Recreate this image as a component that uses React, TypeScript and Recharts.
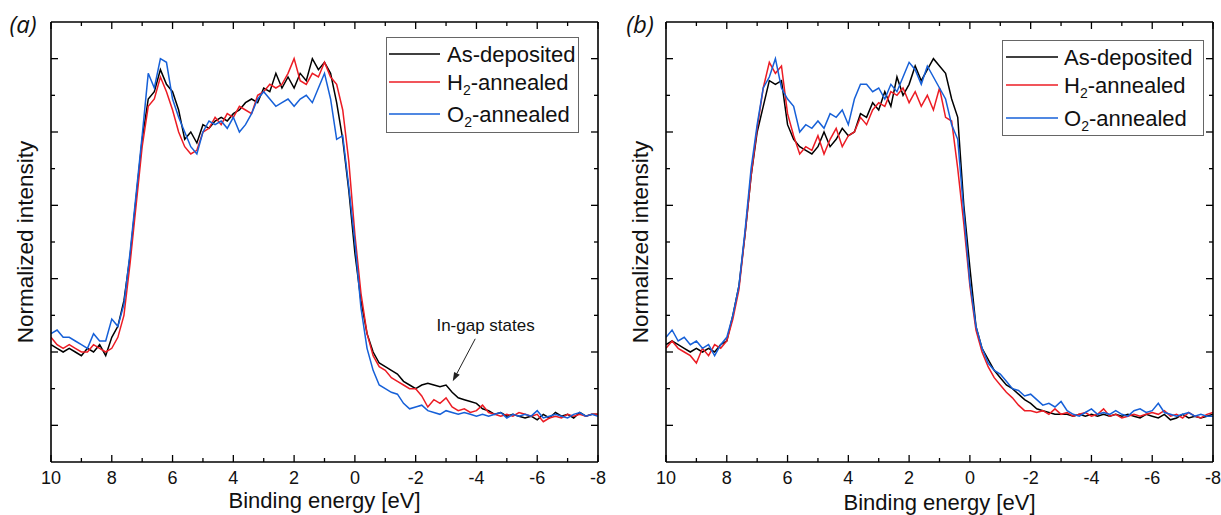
import React from 'react';
import { LineChart, Line, XAxis, YAxis, Legend, ReferenceLine, ReferenceDot } from 'recharts';

const FONT = '"Liberation Sans", Arial, sans-serif';

const energies = [
  10, 9.8, 9.6, 9.4, 9.2, 9, 8.8, 8.6, 8.4, 8.2,
  8, 7.8, 7.6, 7.4, 7.2, 7, 6.8, 6.6, 6.4, 6.2,
  6, 5.8, 5.6, 5.4, 5.2, 5, 4.8, 4.6, 4.4, 4.2,
  4, 3.8, 3.6, 3.4, 3.2, 3, 2.8, 2.6, 2.4, 2.2,
  2, 1.8, 1.6, 1.4, 1.2, 1, 0.8, 0.6, 0.4, 0.2,
  0, -0.2, -0.4, -0.6, -0.8, -1, -1.2, -1.4, -1.6, -1.8,
  -2, -2.2, -2.4, -2.6, -2.8, -3, -3.2, -3.4, -3.6, -3.8,
  -4, -4.2, -4.4, -4.6, -4.8, -5, -5.2, -5.4, -5.6, -5.8,
  -6, -6.2, -6.4, -6.6, -6.8, -7, -7.2, -7.4, -7.6, -7.8,
  -8,
];

// Panel (a)
const aAsDeposited = [
  0.22, 0.21, 0.20, 0.21, 0.20, 0.19, 0.21, 0.20, 0.22, 0.19,
  0.24, 0.27, 0.34, 0.46, 0.62, 0.78, 0.89, 0.91, 0.97, 0.93,
  0.91, 0.86, 0.78, 0.80, 0.77, 0.82, 0.81, 0.83, 0.84, 0.83,
  0.85, 0.86, 0.88, 0.89, 0.88, 0.92, 0.91, 0.96, 0.92, 0.95,
  0.92, 0.96, 0.94, 1.00, 0.97, 0.99, 0.96, 0.88, 0.78, 0.64,
  0.47, 0.34, 0.25, 0.20, 0.17, 0.16, 0.15, 0.14, 0.12, 0.11,
  0.10, 0.11, 0.115, 0.11, 0.105, 0.11, 0.09, 0.075, 0.07, 0.065,
  0.06, 0.045, 0.04, 0.03, 0.035, 0.025, 0.03, 0.025, 0.02, 0.025,
  0.015, 0.03, 0.02, 0.035, 0.025, 0.03, 0.02, 0.035, 0.025, 0.03,
  0.03,
];
const aH2 = [
  0.24, 0.22, 0.21, 0.22, 0.21, 0.20, 0.20, 0.22, 0.21, 0.20,
  0.21, 0.24, 0.30, 0.44, 0.60, 0.76, 0.87, 0.89, 0.95, 0.91,
  0.86, 0.80, 0.76, 0.74, 0.75, 0.80, 0.81, 0.84, 0.82, 0.85,
  0.84, 0.87, 0.86, 0.85, 0.90, 0.91, 0.93, 0.92, 0.93, 0.96,
  1.00, 0.94, 0.93, 0.96, 0.95, 0.99, 0.95, 0.93, 0.86, 0.72,
  0.52, 0.36, 0.25, 0.19, 0.16, 0.15, 0.13, 0.12, 0.11, 0.10,
  0.10, 0.08, 0.05, 0.07, 0.06, 0.075, 0.05, 0.04, 0.045, 0.035,
  0.04, 0.055, 0.035, 0.03, 0.025, 0.03, 0.025, 0.035, 0.03, 0.025,
  0.03, 0.01, 0.02, 0.025, 0.02, 0.03, 0.025, 0.03, 0.025, 0.03,
  0.03,
];
const aO2 = [
  0.25, 0.26, 0.24, 0.24, 0.23, 0.22, 0.21, 0.25, 0.23, 0.23,
  0.29, 0.27, 0.33, 0.47, 0.63, 0.79, 0.96, 0.92, 1.00, 0.99,
  0.89, 0.84, 0.80, 0.76, 0.74, 0.80, 0.83, 0.82, 0.83, 0.81,
  0.84, 0.80, 0.82, 0.85, 0.89, 0.91, 0.89, 0.87, 0.88, 0.89,
  0.87, 0.89, 0.90, 0.88, 0.92, 0.96, 0.89, 0.78, 0.79, 0.65,
  0.50, 0.32, 0.21, 0.15, 0.11, 0.10, 0.09, 0.085, 0.06, 0.045,
  0.05, 0.055, 0.04, 0.035, 0.03, 0.04, 0.035, 0.03, 0.035, 0.03,
  0.025, 0.03, 0.025, 0.03, 0.035, 0.02, 0.03, 0.025, 0.03, 0.025,
  0.04, 0.02, 0.025, 0.03, 0.025, 0.02, 0.03, 0.035, 0.025, 0.03,
  0.025,
];

// Panel (b)
const bAsDeposited = [
  0.22, 0.23, 0.22, 0.21, 0.20, 0.21, 0.20, 0.21, 0.20, 0.22,
  0.23, 0.30, 0.38, 0.52, 0.68, 0.80, 0.87, 0.94, 0.93, 0.94,
  0.82, 0.78, 0.76, 0.75, 0.74, 0.76, 0.80, 0.76, 0.78, 0.81,
  0.79, 0.80, 0.85, 0.84, 0.88, 0.86, 0.91, 0.87, 0.95, 0.90,
  0.93, 0.98, 0.94, 0.97, 1.00, 0.98, 0.96, 0.89, 0.84, 0.60,
  0.43, 0.27, 0.21, 0.18, 0.15, 0.13, 0.11, 0.10, 0.085, 0.07,
  0.06, 0.045, 0.04, 0.035, 0.03, 0.03, 0.03, 0.025, 0.03, 0.025,
  0.03, 0.025, 0.03, 0.025, 0.03, 0.025, 0.03, 0.025, 0.02, 0.03,
  0.025, 0.02, 0.03, 0.015, 0.02, 0.03, 0.02, 0.025, 0.02, 0.025,
  0.03,
];
const bH2 = [
  0.21, 0.23, 0.21, 0.20, 0.19, 0.17, 0.21, 0.19, 0.22, 0.21,
  0.23, 0.29, 0.37, 0.52, 0.68, 0.81, 0.92, 0.99, 0.96, 0.98,
  0.85, 0.79, 0.74, 0.76, 0.75, 0.79, 0.74, 0.78, 0.81, 0.76,
  0.79, 0.80, 0.84, 0.82, 0.86, 0.88, 0.87, 0.91, 0.90, 0.92,
  0.88, 0.91, 0.87, 0.90, 0.86, 0.92, 0.84, 0.83, 0.70, 0.55,
  0.38, 0.26, 0.20, 0.16, 0.13, 0.11, 0.09, 0.075, 0.055, 0.04,
  0.04, 0.035, 0.04, 0.03, 0.045, 0.03, 0.035, 0.025, 0.03, 0.035,
  0.025, 0.03, 0.045, 0.025, 0.03, 0.02, 0.025, 0.03, 0.025, 0.03,
  0.035, 0.03, 0.04, 0.025, 0.03, 0.02, 0.035, 0.025, 0.02, 0.03,
  0.035,
];
const bO2 = [
  0.24, 0.26, 0.23, 0.24, 0.22, 0.23, 0.21, 0.22, 0.19, 0.22,
  0.24, 0.30, 0.38, 0.53, 0.70, 0.82, 0.92, 0.95, 1.00, 0.92,
  0.89, 0.87, 0.80, 0.82, 0.81, 0.83, 0.81, 0.85, 0.84, 0.86,
  0.82, 0.89, 0.93, 0.93, 0.91, 0.92, 0.89, 0.93, 0.91, 0.95,
  0.99, 0.97, 0.93, 0.98, 0.95, 0.92, 0.89, 0.82, 0.78, 0.58,
  0.39, 0.27, 0.21, 0.17, 0.15, 0.14, 0.12, 0.10, 0.095, 0.08,
  0.085, 0.07, 0.055, 0.06, 0.05, 0.065, 0.04, 0.03, 0.025, 0.035,
  0.045, 0.03, 0.035, 0.03, 0.04, 0.03, 0.025, 0.04, 0.045, 0.035,
  0.04, 0.06, 0.035, 0.03, 0.025, 0.03, 0.035, 0.025, 0.03, 0.025,
  0.025,
];

const xTicks = [10, 9, 8, 7, 6, 5, 4, 3, 2, 1, 0, -1, -2, -3, -4, -5, -6, -7, -8];
const yTicks = [0, 0.1, 0.2, 0.3, 0.4, 0.5, 0.6, 0.7, 0.8, 0.9, 1.0];

const seriesKeys = ['asdep', 'h2', 'o2'];
const seriesColors = ['#000000', '#ec1c24', '#1660d8'];
// legend labels: [main, subscript, rest]
const legendLabels = [
  ['As-deposited', '', ''],
  ['H', '2', '-annealed'],
  ['O', '2', '-annealed'],
];
const xTitle = 'Binding energy [eV]';
const yTitle = 'Normalized intensity';
const annotationText = 'In-gap states';

const buildData = (s1: number[], s2: number[], s3: number[]) =>
  energies.map((e, i) => ({ e, asdep: s1[i], h2: s2[i], o2: s3[i] }));

const dataA = buildData(aAsDeposited, aH2, aO2);
const dataB = buildData(bAsDeposited, bH2, bO2);

const isMajorX = (v: number) => Math.round(v) % 2 === 0;
const isMajorY = (v: number) => Math.round(v * 10) % 2 === 0;

const BottomTick = (props: any) => {
  const { x, y, payload } = props;
  const v = payload.value;
  const major = isMajorX(v);
  return (
    <g>
      <line x1={x} y1={y} x2={x} y2={y - (major ? 7 : 4)} stroke="#000" strokeWidth={1.3} />
      {major && (
        <text x={x} y={y + 22} textAnchor="middle" fontSize={18} fontFamily={FONT} fill="#111">
          {String(v)}
        </text>
      )}
    </g>
  );
};
const TopTick = (props: any) => {
  const { x, y, payload } = props;
  const major = isMajorX(payload.value);
  return <line x1={x} y1={y} x2={x} y2={y + (major ? 7 : 4)} stroke="#000" strokeWidth={1.3} />;
};
const LeftTick = (props: any) => {
  const { x, y, payload } = props;
  const major = isMajorY(payload.value);
  return <line x1={x} y1={y} x2={x + (major ? 7 : 4)} y2={y} stroke="#000" strokeWidth={1.3} />;
};
const RightTick = (props: any) => {
  const { x, y, payload } = props;
  const major = isMajorY(payload.value);
  return <line x1={x} y1={y} x2={x - (major ? 7 : 4)} y2={y} stroke="#000" strokeWidth={1.3} />;
};

const ArrowShape = (props: any) => {
  const { x1, y1, x2, y2 } = props;
  const dx = x2 - x1;
  const dy = y2 - y1;
  const len = Math.sqrt(dx * dx + dy * dy) || 1;
  const ux = dx / len;
  const uy = dy / len;
  const nx = -uy;
  const ny = ux;
  const hl = 9;
  const hw = 3.2;
  const bx = x2 - ux * hl;
  const by = y2 - uy * hl;
  return (
    <g>
      <line x1={x1} y1={y1} x2={bx} y2={by} stroke="#222" strokeWidth={1} />
      <polygon
        points={`${x2},${y2} ${bx + nx * hw},${by + ny * hw} ${bx - nx * hw},${by - ny * hw}`}
        fill="#222"
      />
    </g>
  );
};

const AnnotText = (props: any) => {
  const { cx, cy } = props;
  return (
    <text x={cx} y={cy + 6} textAnchor="middle" fontSize={17} fontFamily={FONT} fill="#111">
      {annotationText}
    </text>
  );
};

type PanelProps = {
  data: any[];
  tag: string;
  left: number;
  width: number;
  marginLeft: number;
  marginRight: number;
  xTitleDy: number;
  tagDx: number;
  legendLeft: number;
  legendTop: number;
  legendW: number;
  legendH: number;
  legendLineX1: number;
  legendLineX2: number;
  legendTextX: number;
  legendRows: number[];
  annotate: boolean;
};

const Panel = (p: PanelProps) => {
  const legendContent = () => (
    <svg width={p.legendW} height={p.legendH} style={{ display: 'block' }}>
      <rect x={0.5} y={0.5} width={p.legendW - 1} height={p.legendH - 1} fill="#fff" stroke="#666" strokeWidth={1} />
      {legendLabels.map((lab, i) => (
        <g key={i}>
          <line
            x1={p.legendLineX1}
            x2={p.legendLineX2}
            y1={p.legendRows[i]}
            y2={p.legendRows[i]}
            stroke={seriesColors[i]}
            strokeWidth={1.6}
          />
          <text x={p.legendTextX} y={p.legendRows[i] + 8} fontSize={22} fontFamily={FONT} fill="#111">
            {lab[0]}
            {lab[1] && (
              <tspan fontSize={14} dy={5}>
                {lab[1]}
              </tspan>
            )}
            {lab[2] && <tspan dy={lab[1] ? -5 : 0}>{lab[2]}</tspan>}
          </text>
        </g>
      ))}
    </svg>
  );

  return (
    <div style={{ position: 'absolute', left: p.left, top: 0 }}>
      <LineChart
        width={p.width}
        height={515}
        data={p.data}
        margin={{ top: 21, right: p.marginRight - 1, bottom: 52, left: p.marginLeft - 1 }}
      >
        <XAxis
          xAxisId="b"
          type="number"
          dataKey="e"
          domain={[-8, 10]}
          reversed
          allowDataOverflow
          ticks={xTicks}
          interval={0}
          height={1}
          tickSize={0}
          tickMargin={0}
          tickLine={false}
          tick={(t: any) => <BottomTick {...t} />}
          stroke="#000"
          axisLine={{ stroke: '#000', strokeWidth: 1.6 }}
          label={(lp: any) => {
            const vb = lp.viewBox || { x: 0, y: 0, width: 0, height: 0 };
            return (
              <text
                x={vb.x + vb.width / 2}
                y={vb.y + p.xTitleDy}
                textAnchor="middle"
                fontSize={22}
                fontFamily={FONT}
                fill="#111"
              >
                {xTitle}
              </text>
            );
          }}
        />
        <XAxis
          xAxisId="t"
          orientation="top"
          type="number"
          dataKey="e"
          domain={[-8, 10]}
          reversed
          allowDataOverflow
          ticks={xTicks}
          interval={0}
          height={1}
          tickSize={0}
          tickMargin={0}
          tickLine={false}
          tick={(t: any) => <TopTick {...t} />}
          stroke="#000"
          axisLine={{ stroke: '#000', strokeWidth: 1.6 }}
          label={(lp: any) => {
            const vb = lp.viewBox || { x: 0, y: 0, width: 0, height: 0 };
            return (
              <text
                x={vb.x + p.tagDx}
                y={vb.y + vb.height + 11}
                textAnchor="middle"
                fontSize={24}
                fontStyle="italic"
                fontFamily='"Open Sans", "Liberation Sans", sans-serif'
                fill="#111"
              >
                {p.tag}
              </text>
            );
          }}
        />
        <YAxis
          yAxisId="l"
          type="number"
          domain={[-0.1, 1.1]}
          allowDataOverflow
          ticks={yTicks}
          interval={0}
          width={1}
          tickSize={0}
          tickMargin={0}
          tickLine={false}
          tick={(t: any) => <LeftTick {...t} />}
          stroke="#000"
          axisLine={{ stroke: '#000', strokeWidth: 1.6 }}
          label={(lp: any) => {
            const vb = lp.viewBox || { x: 0, y: 0, width: 0, height: 0 };
            const cx = vb.x + vb.width - 18;
            const cy = vb.y + vb.height / 2;
            return (
              <text
                x={cx}
                y={cy}
                transform={`rotate(-90 ${cx} ${cy})`}
                textAnchor="middle"
                fontSize={22.5}
                fontFamily={FONT}
                fill="#111"
              >
                {yTitle}
              </text>
            );
          }}
        />
        <YAxis
          yAxisId="r"
          orientation="right"
          type="number"
          domain={[-0.1, 1.1]}
          allowDataOverflow
          ticks={yTicks}
          interval={0}
          width={1}
          tickSize={0}
          tickMargin={0}
          tickLine={false}
          tick={(t: any) => <RightTick {...t} />}
          stroke="#000"
          axisLine={{ stroke: '#000', strokeWidth: 1.6 }}
        />
        {seriesKeys.map((k, i) => (
          <Line
            key={k}
            xAxisId="b"
            yAxisId="l"
            type="linear"
            dataKey={k}
            stroke={seriesColors[i]}
            strokeWidth={1.5}
            dot={false}
            activeDot={false}
            isAnimationActive={false}
          />
        ))}
        {p.annotate && (
          <ReferenceLine
            xAxisId="b"
            yAxisId="l"
            segment={[
              { x: -3.96, y: 0.236 },
              { x: -3.22, y: 0.12 },
            ]}
            shape={(sp: any) => <ArrowShape {...sp} />}
          />
        )}
        {p.annotate && (
          <ReferenceDot
            xAxisId="b"
            yAxisId="l"
            x={-4.3}
            y={0.273}
            r={0}
            shape={(sp: any) => <AnnotText {...sp} />}
          />
        )}
        <Legend
          layout="horizontal"
          verticalAlign="middle"
          align="center"
          content={legendContent}
          wrapperStyle={{
            position: 'absolute',
            left: p.legendLeft,
            top: p.legendTop,
            width: p.legendW,
            height: p.legendH,
          }}
        />
      </LineChart>
    </div>
  );
}

export default function App() {
  return (
    <div style={{ position: 'absolute', left: 0, top: 0, width: 1221, height: 515, background: '#fff', overflow: 'hidden' }}>
      <Panel
        data={dataA}
        tag="(a)"
        left={0}
        width={610}
        marginLeft={51}
        marginRight={12}
        xTitleDy={46}
        tagDx={-28}
        legendLeft={386}
        legendTop={37}
        legendW={193}
        legendH={96}
        legendLineX1={3}
        legendLineX2={54}
        legendTextX={61}
        legendRows={[17, 45, 77]}
        annotate={true}
      />
      <Panel
        data={dataB}
        tag="(b)"
        left={610}
        width={611}
        marginLeft={56}
        marginRight={8}
        xTitleDy={48}
        tagDx={-26}
        legendLeft={392}
        legendTop={40}
        legendW={202}
        legendH={96}
        legendLineX1={4}
        legendLineX2={56}
        legendTextX={62}
        legendRows={[17, 45, 78]}
        annotate={false}
      />
    </div>
  );
}
